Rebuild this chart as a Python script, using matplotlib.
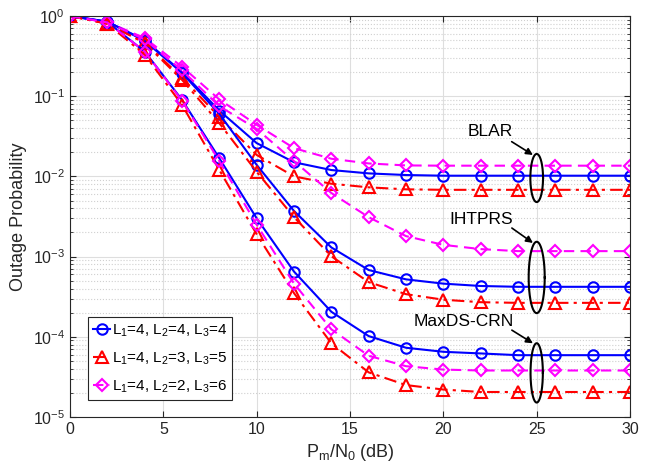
import numpy as np
import matplotlib.pyplot as plt
from matplotlib.ticker import LogLocator, NullFormatter

plt.rcParams['font.family'] = ['Liberation Sans', 'DejaVu Sans']
plt.rcParams['mathtext.fontset'] = 'custom'
plt.rcParams['mathtext.rm'] = 'Liberation Sans'
plt.rcParams['mathtext.it'] = 'Liberation Sans'

# SNR (dB)
snr = np.arange(0, 31, 2)

# BLAR
blar_a = [1.0, 0.85, 0.50, 0.20, 0.066, 0.026, 0.015, 0.012, 0.0109, 0.0104,
          0.0102, 0.0102, 0.0102, 0.0102, 0.0102, 0.0102]
blar_b = [1.0, 0.81, 0.47, 0.17, 0.055, 0.0185, 0.0100, 0.0081, 0.0073, 0.0069,
          0.0068, 0.0068, 0.0068, 0.0068, 0.0068, 0.0068]
blar_c = [1.0, 0.84, 0.53, 0.233, 0.091, 0.044, 0.0225, 0.0166, 0.0145, 0.0137,
          0.0136, 0.0136, 0.0136, 0.0136, 0.0136, 0.0136]

# IHTPRS
ihtprs_a = [1.0, 0.85, 0.49, 0.195, 0.060, 0.0139, 0.0037, 0.0013, 6.8e-4, 5.2e-4,
            4.6e-4, 4.3e-4, 4.2e-4, 4.2e-4, 4.2e-4, 4.2e-4]
ihtprs_b = [1.0, 0.80, 0.46, 0.16, 0.046, 0.0114, 0.0031, 0.00101, 4.8e-4, 3.4e-4,
            2.9e-4, 2.7e-4, 2.65e-4, 2.65e-4, 2.65e-4, 2.65e-4]
ihtprs_c = [1.0, 0.83, 0.51, 0.21, 0.075, 0.039, 0.0155, 0.0062, 0.0031, 0.0018,
            0.0014, 0.00124, 0.00117, 0.00117, 0.00117, 0.00117]

# MaxDS-CRN
maxds_a = [1.0, 0.84, 0.36, 0.09, 0.0168, 0.0030, 6.5e-4, 2.05e-4, 1.02e-4, 7.3e-5,
           6.5e-5, 6.2e-5, 5.9e-5, 5.9e-5, 5.9e-5, 5.9e-5]
maxds_b = [1.0, 0.80, 0.33, 0.078, 0.012, 0.0019, 3.5e-4, 8.3e-5, 3.6e-5, 2.5e-5,
           2.2e-5, 2.05e-5, 2.05e-5, 2.05e-5, 2.05e-5, 2.05e-5]
maxds_c = [1.0, 0.83, 0.36, 0.088, 0.0155, 0.0025, 4.6e-4, 1.24e-4, 5.8e-5, 4.3e-5,
           3.9e-5, 3.8e-5, 3.8e-5, 3.8e-5, 3.8e-5, 3.8e-5]

labels = [r'L$_1$=4, L$_2$=4, L$_3$=4',
          r'L$_1$=4, L$_2$=3, L$_3$=5',
          r'L$_1$=4, L$_2$=2, L$_3$=6']

fig = plt.figure(figsize=(6.52, 4.73), dpi=100)
ax = fig.add_axes([0.1074, 0.1184, 0.8589, 0.8478])

sty_a = dict(color='#0000ff', ls='-', marker='o', ms=7.5, mfc='none', mew=1.5, lw=1.5)
sty_b = dict(color='#ff0000', ls='-.', marker='^', ms=8, mfc='none', mew=1.5, lw=1.5,
             dashes=(6, 2.5, 1.5, 2.5))
sty_c = dict(color='#ff00ff', ls='--', marker='D', ms=6.5, mfc='none', mew=1.5, lw=1.5,
             dashes=(5, 3))

la, = ax.semilogy(snr, blar_a, **sty_a)
lb, = ax.semilogy(snr, blar_b, **sty_b)
lc, = ax.semilogy(snr, blar_c, **sty_c)
ax.semilogy(snr, ihtprs_a, **sty_a)
ax.semilogy(snr, ihtprs_b, **sty_b)
ax.semilogy(snr, ihtprs_c, **sty_c)
ax.semilogy(snr, maxds_a, **sty_a)
ax.semilogy(snr, maxds_b, **sty_b)
ax.semilogy(snr, maxds_c, **sty_c)

# ellipses around the groups at 25 dB (drawn in log space)
t = np.linspace(0, 2 * np.pi, 200)
ellipses = [(25, -2.02, 0.34, 0.30), (25, -3.26, 0.43, 0.445), (25, -4.45, 0.33, 0.37)]
for cx, cy, a, b in ellipses:
    ax.plot(cx + a * np.cos(t), 10 ** (cy + b * np.sin(t)), color='k', lw=1.5)

notes = [('BLAR', (22.5, 0.0358), (23.66, 0.0271), (24.8, 0.0185)),
         ('IHTPRS', (22.0, 0.00294), (23.67, 0.00227), (24.8, 0.00148)),
         ('MaxDS-CRN', (21.08, 1.55e-4), (23.67, 1.21e-4), (24.8, 8.3e-5))]
for txt, pos, tail, head in notes:
    ax.text(pos[0], pos[1], txt, fontsize=12.5, ha='center', va='center')
    ax.annotate('', xy=head, xytext=tail,
                arrowprops=dict(arrowstyle='-|>', color='k', lw=1.2,
                                mutation_scale=10, shrinkA=0, shrinkB=0))

ax.set_xlim(0, 30)
ax.set_ylim(1e-5, 1)
ax.set_xticks([0, 5, 10, 15, 20, 25, 30])
ax.yaxis.set_major_locator(LogLocator(base=10, numticks=10))
ax.yaxis.set_minor_locator(LogLocator(base=10, subs=np.arange(2, 10), numticks=10))
ax.yaxis.set_minor_formatter(NullFormatter())

ax.grid(True, which='major', color='#dedede', lw=0.8)
ax.grid(True, which='minor', axis='y', color='#d0d0d0', ls=':', lw=0.8)
ax.set_axisbelow(True)

ax.tick_params(which='both', direction='in', top=True, right=True,
               labelsize=11.5, colors='#262626')
ax.tick_params(which='major', length=4)
ax.tick_params(which='minor', length=2)
for s in ax.spines.values():
    s.set_color('#262626')
    s.set_linewidth(0.8)

ax.set_xlabel(r'P$_\mathrm{m}$/N$_0$ (dB)', fontsize=13, color='#262626')
ax.set_ylabel('Outage Probability', fontsize=13, color='#262626')

leg = ax.legend([la, lb, lc], labels, loc='lower left', bbox_to_anchor=(0.032, 0.042),
                fontsize=11, fancybox=False, edgecolor='#262626', framealpha=1,
                handlelength=1.1, handletextpad=0.1, borderpad=0.35, labelspacing=0.75,
                borderaxespad=0)
leg.get_frame().set_linewidth(0.8)

fig.savefig('out.png', dpi=100)
